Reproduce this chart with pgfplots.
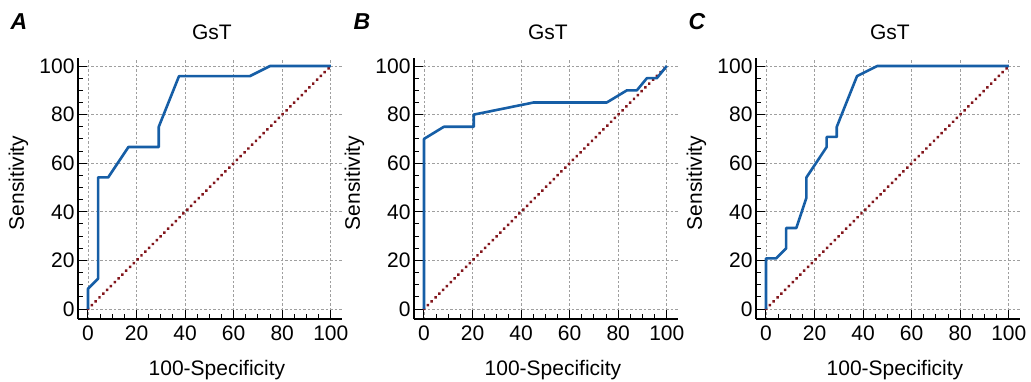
\documentclass[border=0pt]{standalone}
\usepackage{pgfplots}
\pgfplotsset{compat=1.18}
\usepackage{fontspec}
\setmainfont{Liberation Sans}
\definecolor{rocblue}{RGB}{22,94,166}
\definecolor{diagred}{RGB}{130,22,28}
\newcommand{\fs}{\fontsize{21}{25}\selectfont}
\pgfplotsset{
 rocax/.style={
  scale only axis, width=263.7pt, height=261pt,
  xmin=-4.1, xmax=104.5, ymin=-4.1, ymax=103.3,
  axis lines=left, axis line style={-, line width=1.6pt, black},
  xtick={0,20,...,100}, ytick={0,20,...,100},
  minor tick num=3,
  tick align=inside, major tick length=9pt, minor tick length=5pt,
  tick style={black, line width=1pt},
  grid=major, major grid style={gray!75, dash pattern=on 2.5pt off 2pt, line width=0.8pt},
  ticklabel style={font=\fs},
  xticklabel style={yshift=-3pt},
  /pgf/number format/assume math mode=true,
  xlabel={100-Specificity}, ylabel={Sensitivity},
  label style={font=\fs},
  xlabel style={at={(axis description cs:0.527,-0.195)}, anchor=center},
  ylabel style={at={(axis description cs:-0.226,0.521)}, anchor=center},
  title={GsT}, title style={at={(axis description cs:0.508,1.077)}, anchor=center, font=\fs},
  clip=false,
 },
 roc/.style={rocblue, line width=2.6pt, line join=round, mark=none},
 diag/.style={diagred, line width=3.2pt, dash pattern=on 0.3pt off 5.1pt, line cap=round, mark=none},
}
\begin{document}
\begin{tikzpicture}
\begin{axis}[rocax, name=A, at={(0pt,0pt)}, anchor=south west]
\addplot[diag] coordinates {(0,0) (100,100)};
\addplot[roc] coordinates {
(0,0) (0,8.33) (4.17,12.5) (4.17,54.17) (8.33,54.17) (16.67,66.67) (29.17,66.67)
(29.17,75) (37.5,95.83) (66.67,95.83) (75,100) (100,100)};
\end{axis}
\begin{axis}[rocax, name=B, at={(336pt,0pt)}, anchor=south west]
\addplot[diag] coordinates {(0,0) (100,100)};
\addplot[roc] coordinates {
(0,0) (0,70) (8.2,75) (20.5,75) (20.5,80) (45.2,85) (75.3,85) (83.6,90) (87.7,90)
(91.8,95) (95.9,95) (100,100)};
\end{axis}
\begin{axis}[rocax, name=C, at={(678pt,0pt)}, anchor=south west]
\addplot[diag] coordinates {(0,0) (100,100)};
\addplot[roc] coordinates {
(0,0) (0,20.83) (4.17,20.83) (8.33,25) (8.33,33.33) (12.5,33.33) (16.67,45.83)
(16.67,54.17) (25,66.67) (25,70.83) (29.17,70.83) (29.17,75) (37.5,95.83)
(45.83,100) (100,100)};
\end{axis}
\node[font=\fontsize{23}{27}\selectfont\bfseries\itshape] at ([xshift=-59pt,yshift=297pt]A.south west) {A};
\node[font=\fontsize{23}{27}\selectfont\bfseries\itshape] at ([xshift=-52pt,yshift=297pt]B.south west) {B};
\node[font=\fontsize{23}{27}\selectfont\bfseries\itshape] at ([xshift=-59pt,yshift=297pt]C.south west) {C};
\pgfresetboundingbox
\useasboundingbox (-78pt,-62pt) rectangle (953pt,319pt);
\end{tikzpicture}
\end{document}
